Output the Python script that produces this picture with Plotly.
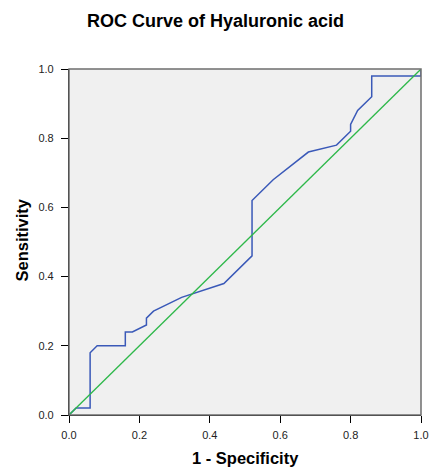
import plotly.graph_objects as go

fpr = [0.0, 0.02, 0.06, 0.06, 0.08, 0.16, 0.16, 0.18, 0.22, 0.22, 0.24, 0.32, 0.44,
       0.52, 0.52, 0.58, 0.68, 0.76, 0.80, 0.80, 0.82, 0.86, 0.86, 1.0, 1.0]
tpr = [0.0, 0.02, 0.02, 0.18, 0.20, 0.20, 0.24, 0.24, 0.26, 0.28, 0.30, 0.34, 0.38,
       0.46, 0.62, 0.68, 0.76, 0.78, 0.82, 0.84, 0.88, 0.92, 0.98, 0.98, 1.0]
ref_x = [0.0, 1.0]
ref_y = [0.0, 1.0]
tick_vals = [0.0, 0.2, 0.4, 0.6, 0.8, 1.0]
tick_text = ["0.0", "0.2", "0.4", "0.6", "0.8", "1.0"]
x_title = "1 - Specificity"
y_title = "Sensitivity"
chart_title = "ROC Curve of Hyaluronic acid"

FONT = "Liberation Sans, Arial"

fig = go.Figure()
fig.add_trace(go.Scatter(x=fpr, y=tpr, mode="lines",
                         line=dict(color="#3a59b8", width=1.5), showlegend=False))
fig.add_trace(go.Scatter(x=ref_x, y=ref_y, mode="lines",
                         line=dict(color="#2eb84a", width=1.3), showlegend=False))

fig.add_shape(type="rect", xref="paper", yref="paper", x0=0, y0=0, x1=1, y1=1,
              line=dict(color="#6e6e6e", width=1.5), fillcolor="rgba(0,0,0,0)", layer="above")

fig.add_annotation(text="<b>" + x_title + "</b>", xref="paper", yref="paper",
                   x=0.5, y=0, xanchor="center", yanchor="middle", yshift=-43,
                   showarrow=False, font=dict(family=FONT, size=16.5, color="black"))
fig.add_annotation(text="<b>" + y_title + "</b>", xref="paper", yref="paper",
                   x=0, y=0.5, xanchor="center", yanchor="middle", xshift=-47.5, yshift=2,
                   textangle=-90, showarrow=False,
                   font=dict(family=FONT, size=16.5, color="black"))

axis_common = dict(range=[0, 1], tickvals=tick_vals, ticktext=tick_text,
                   showgrid=False, zeroline=False, showline=True, linecolor="black",
                   linewidth=1.2, ticks="outside", ticklen=7, tickcolor="black",
                   tickwidth=1.2, automargin=False,
                   tickfont=dict(family=FONT, size=11, color="#222"))

fig.update_layout(
    width=431, height=468,
    margin=dict(l=69, r=9.5, t=69, b=53),
    plot_bgcolor="#f0f0f0", paper_bgcolor="white",
    title=dict(text="<b>" + chart_title + "</b>", x=0.5, xanchor="center",
               y=1 - 26.5 / 468, yanchor="bottom",
               font=dict(family=FONT, size=18, color="black")),
    xaxis=dict(ticklabelstandoff=3, **axis_common),
    yaxis=dict(ticklabelstandoff=5, **axis_common),
)

fig.write_html("out.html", config={"displayModeBar": False},
               post_script="document.body.style.margin='0';document.body.style.overflow='hidden';")
